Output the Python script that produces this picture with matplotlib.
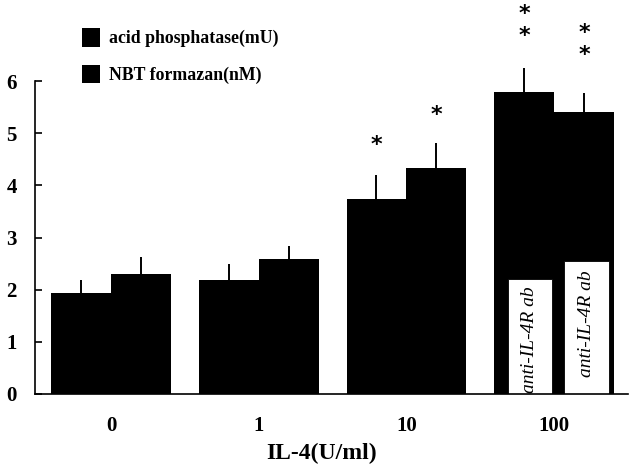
import numpy as np
import matplotlib
matplotlib.use('Agg')
import matplotlib.pyplot as plt

# data
doses = ['0', '1', '10', '100']
acid = [1.93, 2.18, 3.74, 5.79]          # acid phosphatase (mU)
acid_err = [0.25, 0.31, 0.46, 0.46]
nbt = [2.30, 2.59, 4.33, 5.40]           # NBT formazan (nM)
nbt_err = [0.32, 0.25, 0.48, 0.37]
# star positions (y) above each bar
acid_stars = [[], [], [4.77], [6.86, 7.28]]
nbt_stars = [[], [], [5.36], [6.51, 6.93]]
# anti-IL-4R ab bars inside the 100 U/ml group
anti_vals = [2.20, 2.55]
anti_label = 'anti-IL-4R ab'

plt.rcParams['font.family'] = ['Liberation Serif', 'DejaVu Serif']

fig = plt.figure(figsize=(6.3, 4.74), dpi=100)
ax = fig.add_axes([0.0556, 0.1688, 0.941, 0.660])

x = np.arange(len(doses))
w = 0.405
b1 = ax.bar(x - w / 2, acid, w, color='black', label='acid phosphatase(mU)')
b2 = ax.bar(x + w / 2, nbt, w, color='black', label='NBT formazan(nM)')

ax.errorbar(x - w / 2, acid, yerr=[np.zeros(4), acid_err], fmt='none',
            ecolor='black', elinewidth=1.4, capsize=0, clip_on=False)
ax.errorbar(x + w / 2, nbt, yerr=[np.zeros(4), nbt_err], fmt='none',
            ecolor='black', elinewidth=1.4, capsize=0, clip_on=False)

for i in range(len(doses)):
    for ys in acid_stars[i]:
        ax.text(x[i] - w / 2, ys, '*', ha='center', va='center', fontsize=16,
                fontweight='bold', family='DejaVu Sans')
    for ys in nbt_stars[i]:
        ax.text(x[i] + w / 2, ys, '*', ha='center', va='center', fontsize=16,
                fontweight='bold', family='DejaVu Sans')

# white anti-IL-4R ab boxes
anti_x = [x[3] - 0.165, x[3] + 0.22]
ax.bar(anti_x, anti_vals, 0.3, color='white', edgecolor='black', linewidth=0.6)
ax.text(anti_x[0], anti_vals[0] / 2 - 0.05, anti_label, rotation=90,
        ha='center', va='center', fontsize=14, style='italic')
ax.text(anti_x[1], anti_vals[1] / 2 + 0.08, anti_label, rotation=90,
        ha='center', va='center', fontsize=14, style='italic')

ax.set_xlim(-0.515, 3.50)
ax.set_ylim(0, 6)
ax.set_yticks(range(7))
ax.set_xticks(x)
ax.set_xticklabels(doses)
for s in ['top', 'right']:
    ax.spines[s].set_visible(False)
ax.spines['left'].set_linewidth(1.2)
ax.spines['bottom'].set_linewidth(1.2)
ax.tick_params(axis='y', direction='in', length=5, width=1.2, pad=13,
               labelsize=15)
ax.tick_params(axis='x', length=0, pad=16, labelsize=15)
for lab in ax.get_xticklabels() + ax.get_yticklabels():
    lab.set_fontweight('bold')
ax.set_xlabel('IL-4(U/ml)', fontsize=17, fontweight='bold', labelpad=5)
ax.xaxis.label.set_x(0.484)

ax.legend(handles=[b1, b2], loc='upper left', bbox_to_anchor=(0.052, 1.22),
          frameon=False, handlelength=1.0, handleheight=1.2,
          labelspacing=1.0, handletextpad=0.55,
          prop={'weight': 'bold', 'size': 12.8})

plt.savefig('out.png', dpi=100)
